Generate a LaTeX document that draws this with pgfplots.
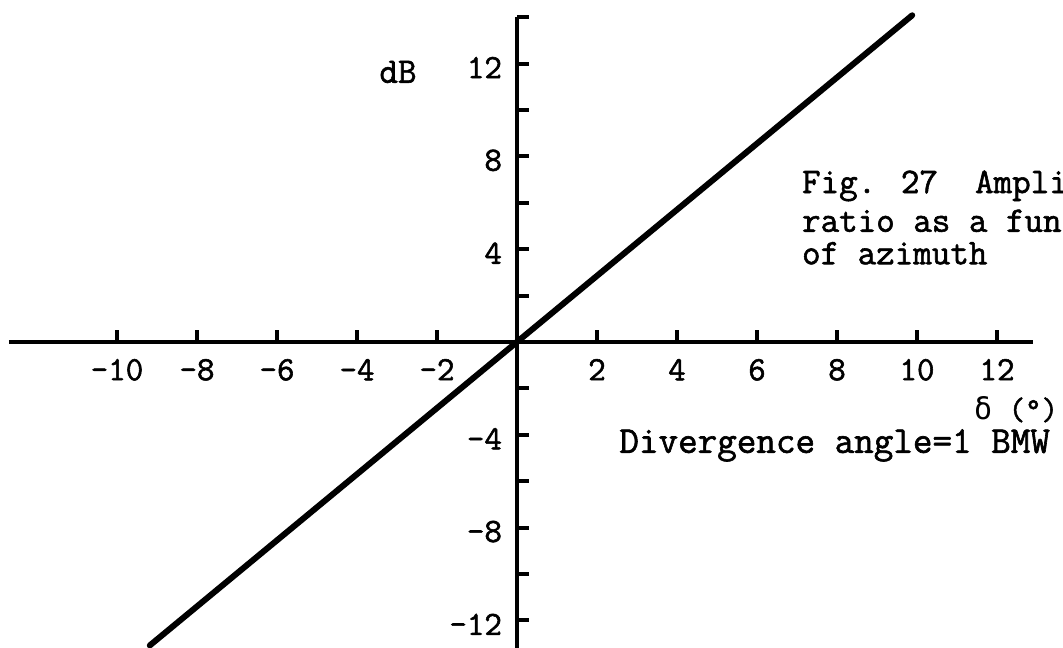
\documentclass[border=0pt]{standalone}
\usepackage{fontspec}
\usepackage{pgfplots}
\pgfplotsset{compat=1.18}
% typewriter face, slightly emboldened
\newfontfamily\tw{Latin Modern Mono}[FakeBold=1.6]
\newfontfamily\grk{DejaVu Sans Mono}

\begin{document}
\begin{tikzpicture}
\begin{axis}[
  x=20pt, y=11.6pt,
  xmin=-12.7, xmax=12.9, ymin=-13.19, ymax=14.0,
  axis lines=middle,
  axis line style={line width=2.4pt, -},
  xtick={-10,-8,-6,-4,-2,2,4,6,8,10,12},
  xticklabels={-10,-8,-6,-4,-2,2,4,6,8,10,12},
  ytick={-12,-8,-4,4,8,12},
  yticklabels={-12,-8,-4,4,8,12},
  minor ytick={-10,-6,-2,2,6,10,14},
  xtick align=inside, ytick align=inside,
  major tick length=6pt, minor tick length=6pt,
  tick style={line width=2pt, black},
  minor tick style={line width=2pt, black},
  clip=false,
  tick label style={font=\tw\fontsize{17}{20}\selectfont},
  xticklabel style={anchor=north, yshift=-5pt},
  yticklabel style={anchor=east, xshift=-4pt, yshift=-2pt},
  every node/.append style={inner sep=0pt},
]
\addplot[line width=3pt, line cap=round] coordinates {(-9.18,-13.08) (9.88,14.08)};

\node[font=\tw\fontsize{18}{22}\selectfont] at (axis cs:-2.975,11.64) {dB};
\node[anchor=base west, font=\tw\fontsize{18}{22}\selectfont] at (axis cs:6.95,6.42) {Fig. 27\ \ Amplitude};
\node[anchor=base west, font=\tw\fontsize{18}{22}\selectfont] at (axis cs:6.95,4.75) {ratio as a function};
\node[anchor=base west, font=\tw\fontsize{18}{22}\selectfont] at (axis cs:6.95,3.35) {of azimuth};
\node[anchor=base west, font=\tw\fontsize{16}{20}\selectfont] at (axis cs:11.25,-3.35) {{\grk\fontsize{15}{18}\selectfont δ} (\textdegree)};
\node[anchor=base east, font=\tw\fontsize{19}{22}\selectfont] at (axis cs:13.5,-4.78) {Divergence angle=1 BMW};

\coordinate (BL) at (axis cs:-12.925,-13.19);
\coordinate (TR) at (axis cs:13.65,14.74);
\end{axis}
\pgfresetboundingbox
\path[use as bounding box] (BL) rectangle (TR);
\end{tikzpicture}
\end{document}
